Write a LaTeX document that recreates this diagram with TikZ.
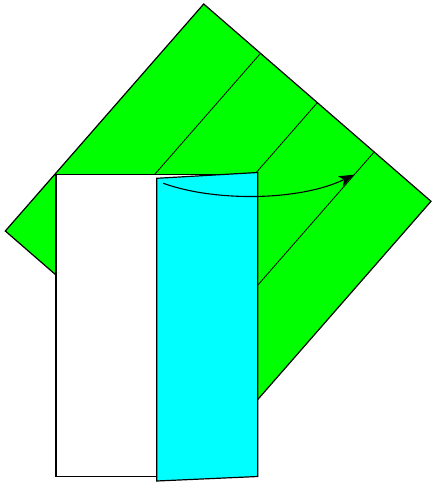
\documentclass[tikz,border=0pt]{standalone}
\usepackage{tikz}
\usetikzlibrary{arrows.meta,calc}
\definecolor{paper}{RGB}{0,255,0}
\definecolor{flapcol}{RGB}{0,255,255}

\begin{document}
\begin{tikzpicture}[
    x=1pt, y=-1pt,
    sheet/.style={draw, fill=paper, line width=1.2pt, line join=miter},
    crease/.style={line width=0.8pt},
    whitesheet/.style={draw, fill=white, line width=1.2pt},
    flap/.style={draw, fill=flapcol, line width=1.2pt},
    foldarrow/.style={-{Stealth[length=15pt, width=11pt, inset=4pt]}, line width=1.1pt}
]
\useasboundingbox (0,0) rectangle (432,484);
\coordinate (top) at (203.7,4);
\coordinate (right) at (431,201.3);
\coordinate (left) at (5.3,231);
\coordinate (bottom) at (232.6,428.3);
\draw[sheet] (top) -- (right) -- (bottom) -- (left) -- cycle;
\draw[crease] ($(top)!0.25!(right)$) -- ($(left)!0.25!(bottom)$);
\draw[crease] ($(top)!0.5!(right)$) -- ($(left)!0.5!(bottom)$);
\draw[crease] ($(top)!0.75!(right)$) -- ($(left)!0.75!(bottom)$);

\draw[whitesheet] (56,174.5) rectangle (257.7,476.5);
\draw[flap] (156.7,178.3) -- (257.7,172.5) -- (257.7,476.5) -- (156.7,481) -- cycle;

\coordinate (start) at (163.3,183.3);
\coordinate (tip) at (354,174.7);
\draw[foldarrow] (start) .. controls (215,202) and (300,201) .. (tip);
\end{tikzpicture}
\end{document}
